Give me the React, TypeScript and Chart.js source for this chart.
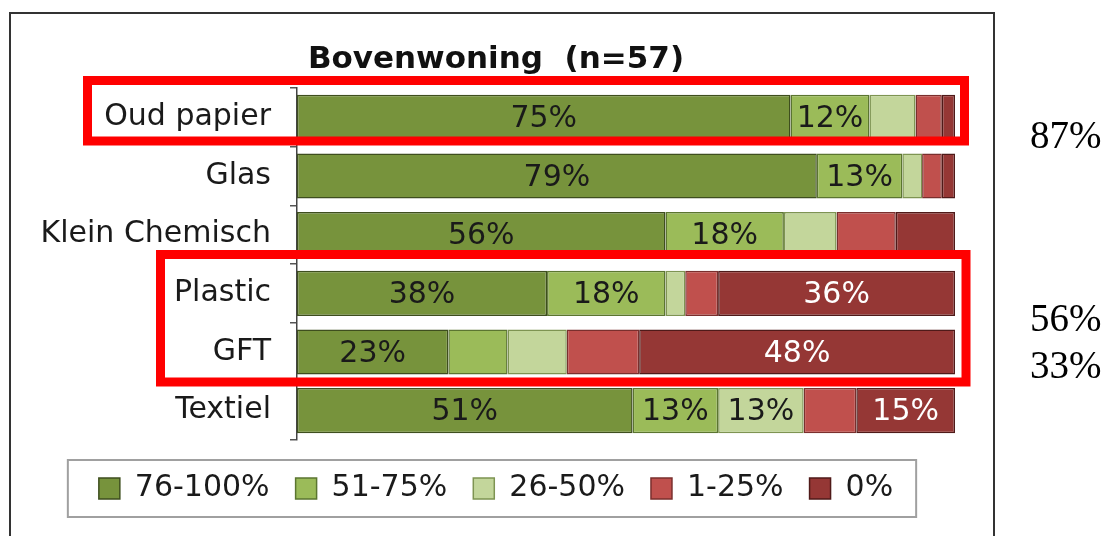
import React, { useEffect, useRef } from 'react';
import { Chart, registerables } from 'chart.js';

Chart.register(...registerables);

// ---- data ----
const categories = ['Oud papier', 'Glas', 'Klein Chemisch', 'Plastic', 'GFT', 'Textiel'];
const seriesLabels = ['76-100%', '51-75%', '26-50%', '1-25%', '0%'];
const s76to100 = [75, 79, 56, 38, 23, 51];
const s51to75 = [12, 13, 18, 18, 9, 13];
const s26to50 = [7, 3, 8, 3, 9, 13];
const s1to25 = [4, 3, 9, 5, 11, 8];
const s0 = [2, 2, 9, 36, 48, 15];
const seriesValues = [s76to100, s51to75, s26to50, s1to25, s0];
const titleText = 'Bovenwoning  (n=57)';
const labelMinimum = 12;
const noteTexts = ['87%', '56%', '33%'];

// ---- styles ----
const fillColors = ['#77933C', '#9BBB59', '#C3D69B', '#C0504D', '#953735'];
const borderColors = ['#3E4E1E', '#5B7530', '#7E9452', '#7A2F2D', '#4F1A19'];
const valueColors = ['#1A1A1A', '#1A1A1A', '#1A1A1A', '#FFFFFF', '#FFFFFF'];
const FONT = "'DejaVu Sans', Verdana, sans-serif";

const decorPlugin = {
  id: 'decor',
  afterDatasetsDraw(chart: any) {
    const ctx = chart.ctx;
    ctx.save();
    ctx.font = `30px ${FONT}`;
    ctx.textAlign = 'center';
    ctx.textBaseline = 'middle';
    chart.data.datasets.forEach((ds: any, i: number) => {
      const meta = chart.getDatasetMeta(i);
      meta.data.forEach((bar: any, j: number) => {
        const v = ds.data[j];
        if (v >= labelMinimum) {
          ctx.fillStyle = valueColors[i];
          ctx.fillText(`${v}%`, (bar.x + bar.base) / 2, bar.y + 2);
        }
      });
    });
    ctx.restore();
  },
  afterDraw(chart: any) {
    const ctx = chart.ctx;
    ctx.save();
    // outer frame
    ctx.strokeStyle = '#333333';
    ctx.lineWidth = 2;
    ctx.strokeRect(10, 13, 984, 600);

    // legend frame
    const hb = chart.legend && chart.legend.legendHitBoxes;
    if (hb && hb.length) {
      const l = Math.min(...hb.map((h: any) => h.left)) - 31;
      const r = Math.max(...hb.map((h: any) => h.left + h.width)) + 23;
      const cy = hb[0].top + hb[0].height / 2;
      ctx.strokeStyle = '#A0A0A0';
      ctx.lineWidth = 2;
      ctx.strokeRect(l, cy - 28.5, r - l, 57);
    }

    // red highlight rectangles
    ctx.strokeStyle = '#FF0000';
    ctx.lineWidth = 9;
    ctx.strokeRect(87.5, 80.5, 877, 60.5);
    ctx.strokeRect(160.5, 254.5, 805.5, 127.5);

    // side notes
    ctx.fillStyle = '#000000';
    ctx.font = "39px 'Liberation Serif', 'Times New Roman', serif";
    ctx.textAlign = 'left';
    ctx.textBaseline = 'alphabetic';
    const ys = [148, 331, 378];
    noteTexts.forEach((t, k) => ctx.fillText(t, 1030, ys[k]));
    ctx.restore();
  },
};

export default function App() {
  const ref = useRef<HTMLCanvasElement | null>(null);

  useEffect(() => {
    if (!ref.current) return;
    const chart = new Chart(ref.current, {
      type: 'bar',
      data: {
        labels: categories,
        datasets: seriesLabels.map((lab, i) => ({
          label: lab,
          data: seriesValues[i],
          backgroundColor: fillColors[i],
          borderColor: borderColors[i],
          borderWidth: 1.5,
          borderSkipped: false,
          barPercentage: 0.77,
          categoryPercentage: 1,
        })),
      },
      options: {
        indexAxis: 'y',
        responsive: false,
        animation: false,
        layout: { padding: { left: 37, right: 155, top: 38.8, bottom: 22.5 } },
        scales: {
          x: {
            stacked: true,
            min: 0,
            max: 100,
            display: true,
            ticks: { display: false },
            grid: { display: false },
            border: { display: false },
            afterFit(scale: any) {
              scale.height = 7.5;
            },
          },
          y: {
            stacked: true,
            ticks: {
              font: { family: FONT, size: 30 },
              color: '#1A1A1A',
              padding: 19,
            },
            grid: {
              display: true,
              drawOnChartArea: false,
              drawTicks: true,
              tickLength: 7,
              color: '#555555',
              lineWidth: 1.5,
            },
            border: { display: true, color: '#444444', width: 1.5 },
            afterFit(scale: any) {
              scale.width = 260;
            },
          },
        },
        plugins: {
          title: {
            display: true,
            text: titleText,
            color: '#111111',
            font: { family: FONT, size: 31, weight: 'bold' },
            padding: { top: 3, bottom: 9 },
          },
          legend: {
            display: true,
            position: 'bottom',
            labels: {
              font: { family: FONT, size: 30 },
              color: '#1A1A1A',
              boxWidth: 21,
              boxHeight: 21,
              padding: 26,
            },
          },
          tooltip: { enabled: false },
        },
      },
      plugins: [decorPlugin],
    } as any);
    return () => chart.destroy();
  }, []);

  return (
    <div style={{ position: 'fixed', left: 0, top: 0, width: 1110, height: 536, background: '#FFFFFF' }}>
      <canvas ref={ref} width={1110} height={536} style={{ display: 'block' }} />
    </div>
  );
}
